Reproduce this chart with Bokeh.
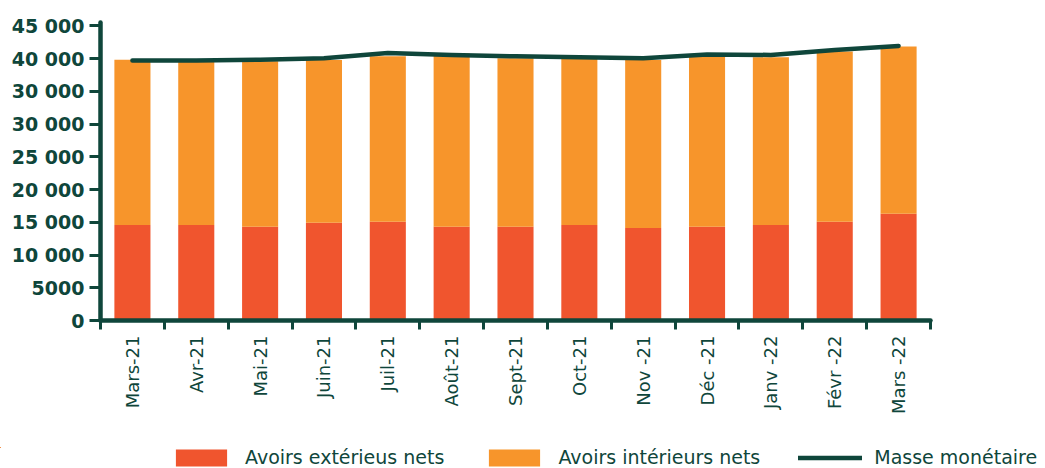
import math
from bokeh.plotting import figure
from bokeh.layouts import column
from bokeh.models import (ColumnDataSource, FixedTicker, Range1d, Legend, LegendItem)
from bokeh.embed import file_html
from bokeh.resources import INLINE

# ---- data ----
months = ["Mars-21", "Avr-21", "Mai-21", "Juin-21", "Juil-21", "Août-21", "Sept-21",
          "Oct-21", "Nov -21", "Déc -21", "Janv -22", "Févr -22", "Mars -22"]
avoirs_exterieurs = [14600, 14600, 14300, 14910, 15060, 14300, 14300,
                     14600, 14140, 14300, 14600, 15060, 16280]
avoirs_interieurs = [25230, 25080, 25300, 24850, 25280, 26450, 25730,
                     25380, 25650, 25990, 25580, 26000, 25540]
masse_monetaire = [39680, 39680, 39830, 40030, 40860, 40550, 40340,
                   40180, 40030, 40600, 40550, 41310, 41930]
y_tick_values = [0, 5000, 10000, 15000, 20000, 25000, 30000, 35000, 40000, 45000]
y_tick_labels = ["0", "5000", "10 000", "15 000", "20 000", "25 000",
                 "30 000", "30 000", "40 000", "45 000"]
series_names = ["Avoirs extérieus nets", "Avoirs intérieurs nets", "Masse monétaire"]

DARK = "#0f463b"
RED = "#f0552e"
ORANGE = "#f7952b"

idx = list(range(len(months)))
tops = [a + b for a, b in zip(avoirs_exterieurs, avoirs_interieurs)]
src = ColumnDataSource(dict(x=idx, ext=avoirs_exterieurs, top=tops,
                            masse=masse_monetaire, zero=[0] * len(idx)))

p = figure(width=1045, height=447, output_backend="svg", toolbar_location=None,
           x_range=Range1d(-0.5, len(months) - 0.5), y_range=Range1d(0, 45500),
           min_border_left=100, min_border_right=115, min_border_top=22,
           min_border_bottom=127)
p.outline_line_color = None
p.xgrid.visible = False
p.ygrid.visible = False
p.background_fill_color = "white"
p.border_fill_color = "white"

p.vbar(x="x", bottom="zero", top="ext", width=0.565, source=src,
       fill_color=RED, line_color=None)
p.vbar(x="x", bottom="ext", top="top", width=0.565, source=src,
       fill_color=ORANGE, line_color=None)
p.line(x="x", y="masse", source=src, line_color=DARK, line_width=4.5,
       line_cap="round", line_join="round")

# x axis
xa = p.xaxis[0]
xa.ticker = FixedTicker(ticks=idx, minor_ticks=[i - 0.5 for i in range(len(months) + 1)])
xa.major_label_overrides = {i: m for i, m in zip(idx, months)}
xa.major_label_orientation = math.pi / 2
xa.major_tick_line_color = None
xa.major_tick_out = 0
xa.major_tick_in = 0
xa.minor_tick_out = 9
xa.minor_tick_in = 0
xa.minor_tick_line_width = 3
xa.minor_tick_line_color = DARK
xa.axis_line_color = DARK
xa.axis_line_width = 4.5
xa.axis_line_cap = "round"
xa.major_label_text_font = "DejaVu Sans"
xa.major_label_text_font_size = "18px"
xa.major_label_text_color = DARK
xa.major_label_standoff = 6

# y axis
ya = p.yaxis[0]
ya.ticker = FixedTicker(ticks=y_tick_values)
ya.major_label_overrides = {v: l for v, l in zip(y_tick_values, y_tick_labels)}
ya.minor_tick_line_color = None
ya.major_tick_out = 11
ya.major_tick_in = 0
ya.major_tick_line_width = 3
ya.major_tick_line_color = DARK
ya.axis_line_color = DARK
ya.axis_line_width = 4.5
ya.axis_line_cap = "round"
ya.major_label_text_font = "DejaVu Sans"
ya.major_label_text_font_style = "bold"
ya.major_label_text_font_size = "19px"
ya.major_label_text_color = DARK
ya.major_label_standoff = 5

# ---- legend strip (separate small figure under the chart) ----
lg = figure(width=1045, height=21, output_backend="svg", toolbar_location=None,
            x_range=Range1d(1000, 1001), y_range=Range1d(-1e6, -1e6 + 1),
            min_border=0, min_border_left=0, min_border_right=0,
            min_border_top=0, min_border_bottom=0)
for fig in (p, lg):
    if "frame_align" in fig.properties():
        fig.frame_align = False
lg.outline_line_color = None
lg.axis.visible = False
lg.grid.visible = False
lg.background_fill_color = "white"
lg.border_fill_color = "white"
l_ext = lg.vbar(x="x", bottom="zero", top="ext", width=0.565, source=src,
                fill_color=RED, line_color=None)
l_int = lg.vbar(x="x", bottom="ext", top="top", width=0.565, source=src,
                fill_color=ORANGE, line_color=None)
l_line = lg.line(x="x", y="masse", source=src, line_color=DARK, line_width=4.5,
                 line_cap="round")
legend = Legend(items=[LegendItem(label=series_names[0], renderers=[l_ext]),
                       LegendItem(label=series_names[1], renderers=[l_int]),
                       LegendItem(label=series_names[2], renderers=[l_line])],
                orientation="horizontal", location=(169, 0),
                glyph_width=64, glyph_height=21, label_height=21,
                label_standoff=12, spacing=38, padding=0, margin=0,
                border_line_color=None, background_fill_alpha=0,
                label_text_font="DejaVu Sans", label_text_font_size="19px",
                label_text_color=DARK)
lg.add_layout(legend, "center")

layout = column(p, lg, spacing=0)
open("out.html", "w").write(file_html(layout, INLINE))
